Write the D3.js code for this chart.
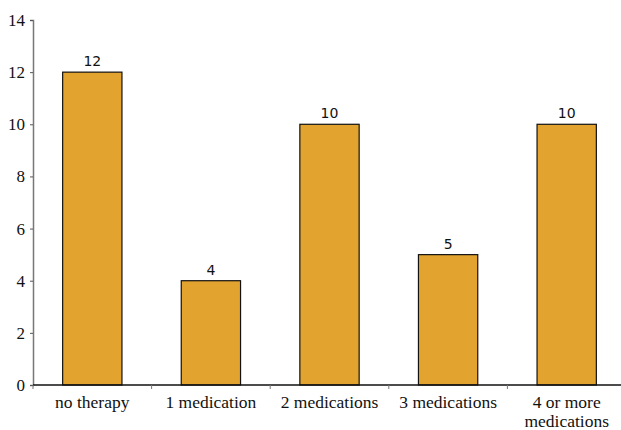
<!DOCTYPE html>
<html>
<head>
<meta charset="utf-8">
<script src="https://cdn.jsdelivr.net/npm/d3@7"></script>
<style>
  body { margin: 0; background: #fff; }
</style>
</head>
<body>
<div id="chart"></div>
<script>
const categories = ["no therapy", "1 medication", "2 medications", "3 medications", "4 or more medications"];
const counts = [12, 4, 10, 5, 10];
const yTicks = [0, 2, 4, 6, 8, 10, 12, 14];

const margin = { top: 20, right: -5, bottom: 45, left: 33 };
const W = 621, H = 430;
const w = W - margin.left - margin.right;
const h = H - margin.top - margin.bottom;

const svg = d3.select("#chart").append("svg")
    .attr("width", W)
    .attr("height", H)
    .append("g")
    .attr("transform", `translate(${margin.left},${margin.top})`);

const x = d3.scaleBand().domain(categories).range([0, w]).padding(0);
const y = d3.scaleLinear().domain([0, 14]).range([h, 0]);

// bars
const barW = x.bandwidth() / 2;
svg.selectAll(".bar")
    .data(categories)
    .enter().append("rect")
    .attr("class", "bar")
    .attr("x", d => x(d) + x.bandwidth() / 2 - barW / 2)
    .attr("y", (d, i) => y(counts[i]))
    .attr("width", barW)
    .attr("height", (d, i) => h - y(counts[i]))
    .attr("fill", "#e3a42f")
    .attr("stroke", "#111")
    .attr("stroke-width", 1.2);

// value labels
svg.selectAll(".val")
    .data(categories)
    .enter().append("text")
    .attr("class", "val")
    .attr("x", d => x(d) + x.bandwidth() / 2)
    .attr("y", (d, i) => y(counts[i]) - 6)
    .attr("text-anchor", "middle")
    .attr("font-family", "DejaVu Sans, sans-serif")
    .attr("font-size", 14)
    .attr("fill", "#111")
    .text((d, i) => counts[i]);

// y axis
const yAxis = svg.append("g")
    .call(d3.axisLeft(y).tickValues(yTicks).tickSize(3).tickPadding(5));
yAxis.select(".domain").attr("stroke", "#777").attr("stroke-width", 1.5);
yAxis.selectAll(".tick line").attr("stroke", "#555");
yAxis.selectAll("text")
    .attr("font-family", "Liberation Serif, serif")
    .attr("font-size", 17)
    .attr("fill", "#111");

// x axis with ticks at band boundaries
const xAxis = svg.append("g").attr("transform", `translate(0,${h})`);
xAxis.append("line")
    .attr("x1", 0).attr("x2", w)
    .attr("stroke", "#111").attr("stroke-width", 1.5);
xAxis.selectAll(".bt")
    .data(categories)
    .enter().append("line")
    .attr("x1", d => x(d)).attr("x2", d => x(d))
    .attr("y1", 0).attr("y2", 4)
    .attr("stroke", "#777");

const labels = xAxis.selectAll(".cat")
    .data(categories)
    .enter().append("text")
    .attr("class", "cat")
    .attr("x", d => x(d) + x.bandwidth() / 2)
    .attr("y", 23)
    .attr("text-anchor", "middle")
    .attr("font-family", "Liberation Serif, serif")
    .attr("font-size", 17.5)
    .attr("fill", "#111");

// wrap the long label onto two lines
labels.each(function (d) {
    const t = d3.select(this);
    const parts = d === "4 or more medications" ? ["4 or more", "medications"] : [d];
    parts.forEach((p, i) => {
        t.append("tspan")
            .attr("x", x(d) + x.bandwidth() / 2)
            .attr("dy", i === 0 ? 0 : 19)
            .text(p);
    });
});
</script>
</body>
</html>
